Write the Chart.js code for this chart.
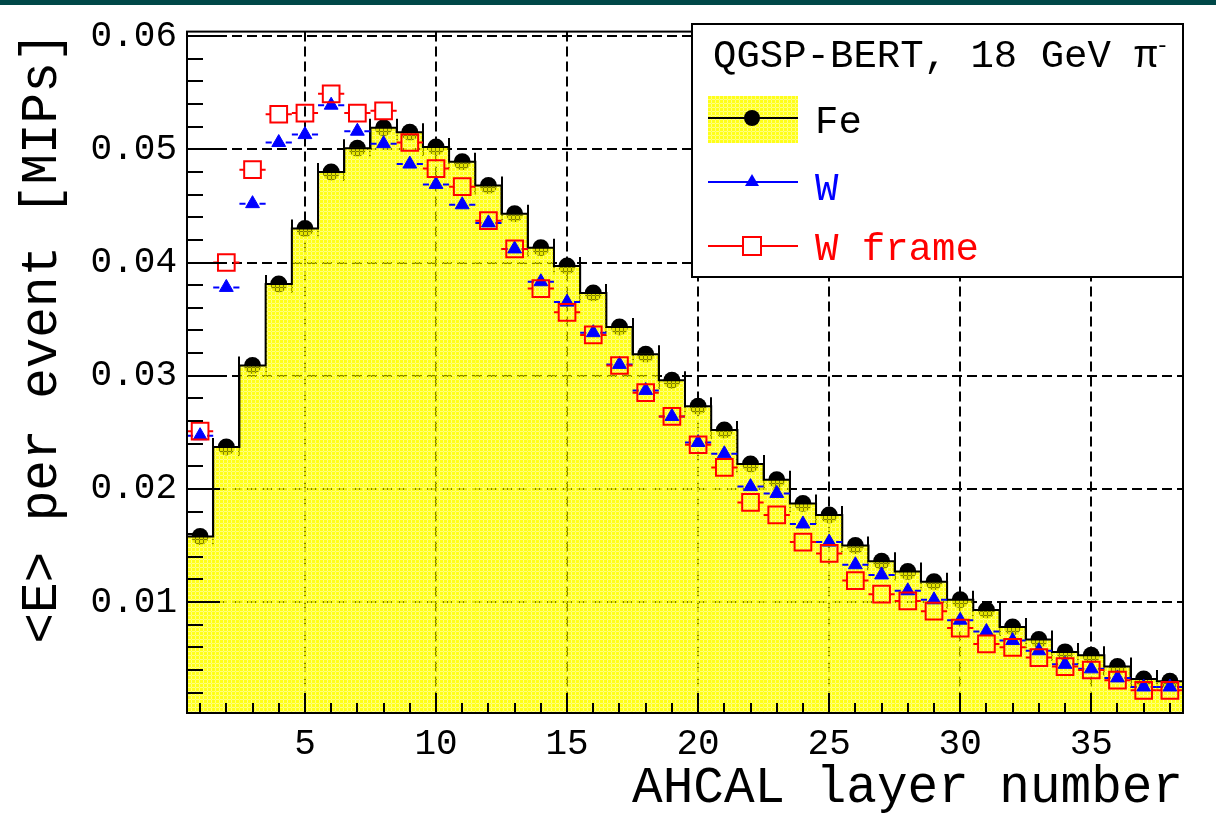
<!DOCTYPE html>
<html>
<head>
<meta charset="utf-8">
<script src="https://cdn.jsdelivr.net/npm/chart.js@4.4.1/dist/chart.umd.min.js"></script>
<style>
  html, body { margin: 0; padding: 0; background: #fff; }
  #wrap { position: relative; width: 1216px; height: 818px; }
  #topbar { position: absolute; left: 0; top: 0; width: 1216px; height: 5px; background: #004848; }
</style>
</head>
<body>
<div id="wrap">
  <canvas id="chart" width="1216" height="818"></canvas>
  <div id="topbar"></div>
</div>
<script>
// AHCAL layers and mean energy per event [MIPs]
const layers = [1, 2, 3, 4, 5, 6, 7, 8, 9, 10, 11, 12, 13, 14, 15, 16, 17, 18, 19,
  20, 21, 22, 23, 24, 25, 26, 27, 28, 29, 30, 31, 32, 33, 34, 35, 36, 37, 38];
const fe = [0.0158, 0.0237, 0.0309, 0.0381, 0.0430, 0.0480, 0.0501, 0.0519, 0.0515, 0.0502,
  0.0489, 0.0468, 0.0443, 0.0413, 0.0397, 0.0373, 0.0343, 0.0319, 0.0296, 0.0273,
  0.0252, 0.0222, 0.0208, 0.0187, 0.0177, 0.0150, 0.0136, 0.0127, 0.0118, 0.0102,
  0.0093, 0.0078, 0.0067, 0.0056, 0.0053, 0.0043, 0.0032, 0.0030];
const w = [0.0247, 0.0378, 0.0452, 0.0506, 0.0513, 0.0539, 0.0516, 0.0505, 0.0487, 0.0469,
  0.0451, 0.0435, 0.0412, 0.0383, 0.0365, 0.0338, 0.0310, 0.0287, 0.0264, 0.0241,
  0.0231, 0.0202, 0.0196, 0.0169, 0.0153, 0.0133, 0.0124, 0.0110, 0.0102, 0.0084,
  0.0074, 0.0066, 0.0057, 0.0045, 0.0041, 0.0033, 0.0025, 0.0025];
const wFrame = [0.0251, 0.0400, 0.0482, 0.0531, 0.0532, 0.0549, 0.0532, 0.0534, 0.0506, 0.0483,
  0.0467, 0.0437, 0.0412, 0.0377, 0.0356, 0.0336, 0.0309, 0.0285, 0.0264, 0.0239,
  0.0219, 0.0188, 0.0177, 0.0153, 0.0143, 0.0119, 0.0107, 0.0101, 0.0092, 0.0077,
  0.0063, 0.0060, 0.0051, 0.0043, 0.0040, 0.0031, 0.0022, 0.0022];

const xTicks = [5, 10, 15, 20, 25, 30, 35];
const yTicks = [0.01, 0.02, 0.03, 0.04, 0.05, 0.06];

const FONT = "'Liberation Mono', 'Courier New', monospace";

// yellow dotted fill like the ROOT pattern
function makeFill() {
  const c = document.createElement('canvas');
  c.width = 4; c.height = 4;
  const g = c.getContext('2d');
  g.fillStyle = 'rgba(255,255,0,0.9)';
  g.fillRect(0, 0, 4, 4);
  g.clearRect(0, 3, 4, 1);
  g.clearRect(3, 0, 1, 4);
  g.fillStyle = 'rgba(255,255,0,0.5)';
  g.fillRect(0, 3, 4, 1);
  g.fillRect(3, 0, 1, 4);
  return document.getElementById('chart').getContext('2d').createPattern(c, 'repeat');
}
const yellowFill = makeFill();

const pts = arr => arr.map((v, i) => ({ x: layers[i], y: v }));
const stepPts = [];
fe.forEach((v, i) => {
  stepPts.push({ x: layers[i] - 0.5, y: v });
  stepPts.push({ x: layers[i] + 0.5, y: v });
});

const rootStyle = {
  id: 'rootStyle',
  beforeDatasetsDraw(chart) {
    // vertical bin-edge segments of the Fe histogram (partly under the fill)
    const { ctx, chartArea: a, scales: { x, y } } = chart;
    ctx.save();
    ctx.beginPath();
    ctx.rect(a.left, a.top, a.right - a.left, a.bottom - a.top);
    ctx.clip();
    ctx.strokeStyle = '#000';
    ctx.lineWidth = 2;
    for (let i = 0; i < fe.length - 1; i++) {
      const px = Math.round(x.getPixelForValue(layers[i] + 0.5));
      const p1 = y.getPixelForValue(fe[i]);
      const p2 = y.getPixelForValue(fe[i + 1]);
      ctx.beginPath();
      ctx.moveTo(px, Math.max(p1, p2) + 9);
      ctx.lineTo(px, Math.min(p1, p2) - 9);
      ctx.stroke();
    }
    ctx.restore();
  },
  beforeDatasetDraw(chart, args) {
    const ds = chart.data.datasets[args.index];
    if (!ds.errGap) return;
    const { ctx, scales: { x, y } } = chart;
    ctx.save();
    ctx.strokeStyle = ds.borderColor;
    ctx.lineWidth = 2;
    ds.data.forEach(p => {
      const px = x.getPixelForValue(p.x);
      const py = y.getPixelForValue(p.y);
      const l = x.getPixelForValue(p.x - 0.5);
      const r = x.getPixelForValue(p.x + 0.5);
      ctx.beginPath();
      ctx.moveTo(l, py); ctx.lineTo(px - ds.errGap, py);
      ctx.moveTo(px + ds.errGap, py); ctx.lineTo(r, py);
      ctx.stroke();
    });
    ctx.restore();
  },
  afterDatasetsDraw(chart) {
    const { ctx, chartArea: a, scales: { x, y } } = chart;
    ctx.save();
    ctx.strokeStyle = '#000';
    ctx.lineWidth = 2;
    // inner tick marks
    ctx.beginPath();
    layers.forEach(n => {
      const px = Math.round(x.getPixelForValue(n));
      const len = n % 5 === 0 ? 20 : 10;
      ctx.moveTo(px, a.bottom); ctx.lineTo(px, a.bottom - len);
    });
    for (let k = 1; k <= 30; k++) {
      const py = Math.round(y.getPixelForValue(k * 0.002));
      const len = k % 5 === 0 ? 33 : 16;
      ctx.moveTo(a.left, py); ctx.lineTo(a.left + len, py);
    }
    ctx.stroke();
    // frame
    ctx.strokeRect(a.left, a.top, a.right - a.left, a.bottom - a.top);
    ctx.restore();
  },
  afterDraw(chart) {
    const { ctx } = chart;
    const bx = 692, by = 24, bw = 491, bh = 253;
    ctx.save();
    ctx.fillStyle = '#fff';
    ctx.fillRect(bx, by, bw, bh);
    ctx.strokeStyle = '#000';
    ctx.lineWidth = 2;
    ctx.strokeRect(bx, by, bw, bh);

    ctx.font = '39px ' + FONT;
    ctx.textBaseline = 'alphabetic';
    ctx.textAlign = 'left';
    ctx.fillStyle = '#000';
    const title = 'QGSP-BERT, 18 GeV \u03c0';
    ctx.fillText(title, 713, 67);
    const tw = ctx.measureText(title).width;
    ctx.font = '22px ' + FONT;
    ctx.fillText('-', 713 + tw - 2, 52);

    const sx0 = 708, sx1 = 798, mx = 752;
    // Fe
    ctx.fillStyle = yellowFill;
    ctx.fillRect(sx0, 96, sx1 - sx0, 47);
    ctx.strokeStyle = '#000';
    ctx.beginPath(); ctx.moveTo(sx0, 118); ctx.lineTo(sx1, 118); ctx.stroke();
    ctx.fillStyle = '#000';
    ctx.beginPath(); ctx.arc(mx, 118, 8, 0, Math.PI * 2); ctx.fill();
    // W
    ctx.strokeStyle = '#0000ff';
    ctx.beginPath(); ctx.moveTo(sx0, 182); ctx.lineTo(sx1, 182); ctx.stroke();
    ctx.fillStyle = '#0000ff';
    ctx.beginPath();
    ctx.moveTo(mx, 174); ctx.lineTo(mx + 7, 186); ctx.lineTo(mx - 7, 186);
    ctx.closePath(); ctx.fill();
    // W frame
    ctx.strokeStyle = '#ff0000';
    ctx.beginPath(); ctx.moveTo(sx0, 246); ctx.lineTo(mx - 9, 246);
    ctx.moveTo(mx + 9, 246); ctx.lineTo(sx1, 246); ctx.stroke();
    ctx.strokeRect(mx - 9, 237, 18, 18);

    ctx.font = '39px ' + FONT;
    ctx.fillStyle = '#000';
    ctx.fillText('Fe', 815, 133);
    ctx.fillStyle = '#0000ff';
    ctx.fillText('W', 815, 200);
    ctx.fillStyle = '#ff0000';
    ctx.fillText('W frame', 815, 260);
    ctx.restore();
  }
};

new Chart(document.getElementById('chart'), {
  type: 'bar',
  data: {
    datasets: [
      {
        type: 'line', label: 'W frame', data: pts(wFrame), order: 1,
        showLine: false, pointStyle: 'rect', pointRadius: 11.8,
        pointBackgroundColor: 'rgba(0,0,0,0)', pointBorderColor: '#ff0000', pointBorderWidth: 2,
        borderColor: '#ff0000', errGap: 8
      },
      {
        type: 'line', label: 'W', data: pts(w), order: 2,
        showLine: false, pointStyle: 'triangle', pointRadius: 8,
        pointBackgroundColor: '#0000ff', pointBorderColor: '#0000ff', pointBorderWidth: 1,
        borderColor: '#0000ff', errGap: 7
      },
      {
        type: 'line', label: 'Fe outline', data: stepPts, order: 3,
        borderColor: '#000', borderWidth: 2, pointRadius: 0, tension: 0
      },
      {
        type: 'bar', label: 'Fe', data: pts(fe), order: 4,
        backgroundColor: yellowFill, borderWidth: 0,
        barPercentage: 1, categoryPercentage: 1
      },
      {
        type: 'line', label: 'Fe markers', data: pts(fe), order: 5,
        showLine: false, pointStyle: 'circle', pointRadius: 8.5,
        pointBackgroundColor: '#000', pointBorderWidth: 0
      }
    ]
  },
  options: {
    responsive: false,
    animation: false,
    devicePixelRatio: 1,
    layout: { padding: { left: 0, right: 33, top: 25, bottom: 0 } },
    plugins: { legend: { display: false }, tooltip: { enabled: false } },
    scales: {
      x: {
        type: 'linear', min: 0.5, max: 38.5, offset: false,
        afterBuildTicks: s => { s.ticks = xTicks.map(v => ({ value: v })); },
        afterFit: s => { s.height = 105; },
        grid: { color: '#000', lineWidth: 2, drawTicks: false, offset: false },
        border: { display: false, dash: [10, 5] },
        ticks: { color: '#000', font: { family: FONT, size: 36 }, padding: 10, maxRotation: 0 },
        title: {
          display: true, text: 'AHCAL layer number', align: 'end', color: '#000',
          font: { family: FONT, size: 51, lineHeight: 1 }, padding: { top: 0, bottom: 4 }
        }
      },
      y: {
        type: 'linear', min: 0.0002, max: 0.0604,
        afterBuildTicks: s => { s.ticks = yTicks.map(v => ({ value: v })); },
        afterFit: s => { s.width = 187; },
        grid: { color: '#000', lineWidth: 2, drawTicks: false },
        border: { display: false, dash: [10, 5] },
        ticks: { color: '#000', font: { family: FONT, size: 36 }, padding: 10,
          callback: v => v.toFixed(2) },
        title: {
          display: true, text: '<E> per event [MIPs]', align: 'end', color: '#000',
          font: { family: FONT, size: 51, lineHeight: 1 }, padding: { top: 17, bottom: 0 }
        }
      }
    }
  },
  plugins: [rootStyle]
});
</script>
</body>
</html>
